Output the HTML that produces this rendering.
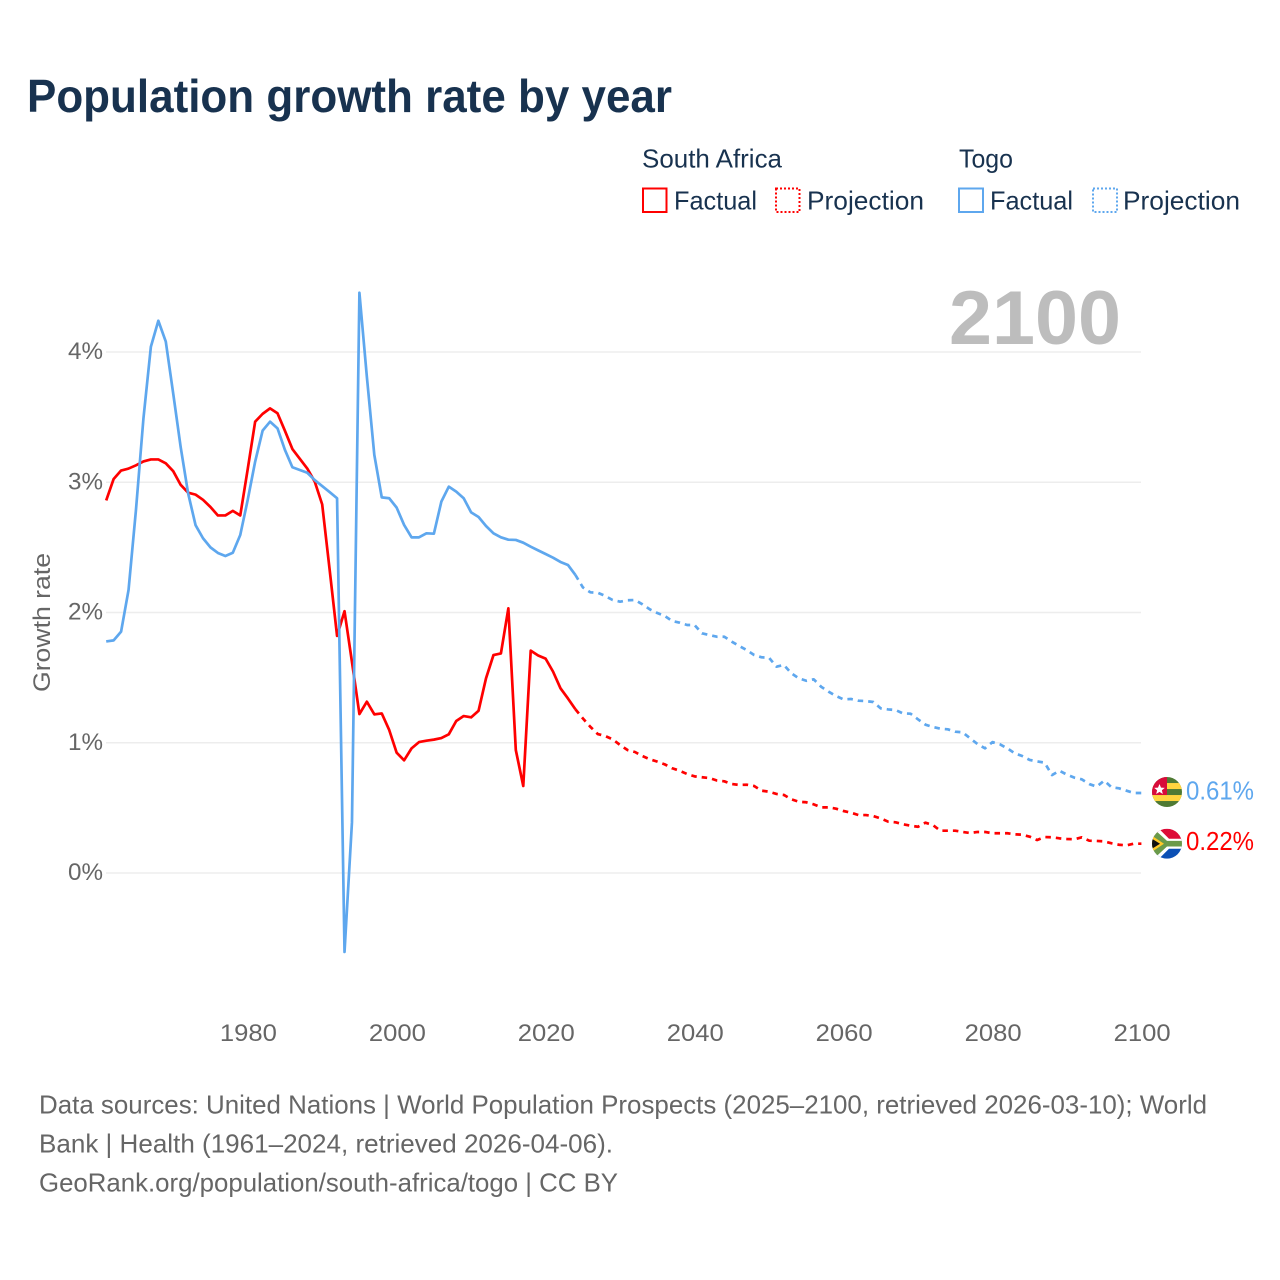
<!DOCTYPE html>
<html lang="en">
<head>
<meta charset="utf-8">
<title>Population growth rate by year</title>
<style>
  html, body { margin: 0; padding: 0; background: #fff; }
  svg { display: block; }
  text { font-family: "Liberation Sans", sans-serif; }
</style>
</head>
<body>
<svg id="chart" xmlns="http://www.w3.org/2000/svg" width="1280" height="1280" viewBox="0 0 1280 1280">
  <rect x="0" y="0" width="1280" height="1280" fill="#ffffff"/>

  <text x="27" y="112" font-size="46" font-weight="700" fill="#18324f" textLength="645" lengthAdjust="spacingAndGlyphs">Population growth rate by year</text>

  <g fill="#18324f" font-size="26">
    <text x="642" y="167.5" textLength="140" lengthAdjust="spacingAndGlyphs">South Africa</text>
    <rect x="643" y="188.5" width="23.5" height="23.5" fill="none" stroke="#ff0000" stroke-width="2"/>
    <text x="674" y="209.5" textLength="83" lengthAdjust="spacingAndGlyphs">Factual</text>
    <rect x="776" y="188.5" width="23.5" height="23.5" fill="none" stroke="#ff0000" stroke-width="2" stroke-dasharray="2 2"/>
    <text x="807" y="209.5" textLength="117" lengthAdjust="spacingAndGlyphs">Projection</text>

    <text x="959" y="167.5" textLength="54" lengthAdjust="spacingAndGlyphs">Togo</text>
    <rect x="959" y="188.5" width="24" height="23.5" fill="none" stroke="#5ea7ee" stroke-width="2"/>
    <text x="990" y="209.5" textLength="83" lengthAdjust="spacingAndGlyphs">Factual</text>
    <rect x="1093" y="188.5" width="24" height="23.5" fill="none" stroke="#5ea7ee" stroke-width="2" stroke-dasharray="2 2"/>
    <text x="1123" y="209.5" textLength="117" lengthAdjust="spacingAndGlyphs">Projection</text>
  </g>

  <g id="grid"></g>
  <g id="y-ticks"></g>
  <g id="x-ticks"></g>

  <text transform="translate(50,622.5) rotate(-90)" text-anchor="middle" font-size="24" fill="#666666" textLength="139" lengthAdjust="spacingAndGlyphs">Growth rate</text>

  <text x="949" y="344" font-size="76" font-weight="700" fill="#bdbdbd" textLength="172" lengthAdjust="spacingAndGlyphs">2100</text>

  <g id="series"></g>

  <defs>
    <clipPath id="flag-clip"><circle cx="0" cy="0" r="15"/></clipPath>
  </defs>

  <g id="flag-togo">
    <g clip-path="url(#flag-clip)">
      <rect x="-15" y="-15" width="30" height="30" fill="#4f7a34"/>
      <rect x="-15" y="-9" width="30" height="6" fill="#ffd53f"/>
      <rect x="-15" y="3" width="30" height="6" fill="#ffd53f"/>
      <rect x="-15" y="-15" width="15" height="18" fill="#d80b3a"/>
      <polygon points="-7.5,-8 -6,-4.4 -2.2,-4.2 -5.1,-1.8 -4.2,2 -7.5,-0.1 -10.8,2 -9.9,-1.8 -12.8,-4.2 -9,-4.4" fill="#ffffff"/>
    </g>
  </g>

  <g id="flag-south-africa">
    <g clip-path="url(#flag-clip)">
      <rect x="-15" y="-15" width="30" height="15" fill="#dd0b38"/>
      <rect x="-15" y="0" width="30" height="15" fill="#0b50b5"/>
      <polygon points="-15,-15 -8,-15 2,-5 15,-5 15,5 2,5 -8,15 -15,15" fill="#ffffff"/>
      <polygon points="-15,-12 -10,-12 0,-2.8 15,-2.8 15,2.8 0,2.8 -10,12 -15,12" fill="#6a9a4a"/>
      <polygon points="-15,-8 -3,0 -15,8" fill="#ffc928"/>
      <polygon points="-15,-5 -7,0 -15,5" fill="#111111"/>
    </g>
  </g>

  <text id="label-togo" font-size="26" fill="#5ea7ee" textLength="68" lengthAdjust="spacingAndGlyphs"></text>
  <text id="label-south-africa" font-size="26" fill="#ff0000" textLength="68" lengthAdjust="spacingAndGlyphs"></text>

  <g font-size="26" fill="#666666">
    <text x="39" y="1113.5" textLength="1168" lengthAdjust="spacingAndGlyphs">Data sources: United Nations | World Population Prospects (2025–2100, retrieved 2026-03-10); World</text>
    <text x="39" y="1152.5" textLength="574" lengthAdjust="spacingAndGlyphs">Bank | Health (1961–2024, retrieved 2026-04-06).</text>
    <text x="39" y="1191.5" textLength="579" lengthAdjust="spacingAndGlyphs">GeoRank.org/population/south-africa/togo | CC BY</text>
  </g>
</svg>

<script>
// ---- chart data (growth rate, % per year) ----
const factualStartYear = 1961;
const projectionStartYear = 2024;
const yTickValues = [0, 1, 2, 3, 4];
const yTickLabels = ["0%", "1%", "2%", "3%", "4%"];
const xTickValues = [1980, 2000, 2020, 2040, 2060, 2080, 2100];
const xTickLabels = ["1980", "2000", "2020", "2040", "2060", "2080", "2100"];

const southAfricaFactual = [
  2.86, 3.025, 3.09, 3.105, 3.13, 3.16, 3.175, 3.175, 3.145, 3.085,
  2.98, 2.92, 2.905, 2.865, 2.81, 2.745, 2.745, 2.78, 2.745, 3.10,
  3.465, 3.525, 3.567, 3.53, 3.395, 3.255, 3.18, 3.105, 3.005, 2.83,
  2.33, 1.82, 2.01, 1.62, 1.22, 1.315, 1.218, 1.225, 1.098, 0.924,
  0.865, 0.957, 1.005, 1.016, 1.024, 1.036, 1.065, 1.167, 1.205, 1.195,
  1.246, 1.495, 1.673, 1.686, 2.032, 0.944, 0.668, 1.707, 1.67, 1.646,
  1.546, 1.418, 1.34, 1.257
];
const southAfricaProjection = [
  1.257, 1.187, 1.123, 1.067, 1.052, 1.026, 0.983, 0.944, 0.929, 0.898,
  0.873, 0.855, 0.834, 0.804, 0.785, 0.76, 0.742, 0.735, 0.729, 0.71,
  0.704, 0.683, 0.676, 0.678, 0.668, 0.632, 0.624, 0.607, 0.599, 0.566,
  0.547, 0.543, 0.527, 0.504, 0.504, 0.494, 0.476, 0.463, 0.445, 0.445,
  0.437, 0.419, 0.394, 0.389, 0.374, 0.363, 0.355, 0.386, 0.368, 0.325,
  0.325, 0.325, 0.315, 0.307, 0.315, 0.315, 0.305, 0.305, 0.305, 0.297,
  0.294, 0.279, 0.253, 0.276, 0.274, 0.266, 0.261, 0.259, 0.274, 0.248,
  0.246, 0.243, 0.228, 0.217, 0.212, 0.225, 0.225
];
const togoFactual = [
  1.778, 1.786, 1.853, 2.173, 2.79, 3.49, 4.04, 4.24, 4.08, 3.68,
  3.27, 2.915, 2.67, 2.57, 2.50, 2.457, 2.434, 2.459, 2.595, 2.864,
  3.158, 3.396, 3.465, 3.414, 3.248, 3.115, 3.094, 3.073, 3.017, 2.971,
  2.925, 2.877, -0.606, 0.39, 4.455, 3.81, 3.21, 2.884, 2.877, 2.805,
  2.672, 2.577, 2.577, 2.608, 2.605, 2.851, 2.966, 2.928, 2.877, 2.769,
  2.733, 2.664, 2.608, 2.577, 2.559, 2.557, 2.536, 2.505, 2.477, 2.449,
  2.421, 2.388, 2.365, 2.288
];
const togoProjection = [
  2.288, 2.193, 2.155, 2.152, 2.127, 2.096, 2.083, 2.094, 2.096, 2.063,
  2.024, 1.996, 1.973, 1.935, 1.922, 1.904, 1.904, 1.84, 1.827, 1.814,
  1.814, 1.776, 1.743, 1.712, 1.674, 1.656, 1.653, 1.584, 1.597, 1.533,
  1.495, 1.476, 1.487, 1.43, 1.392, 1.359, 1.333, 1.336, 1.323, 1.32,
  1.313, 1.264, 1.256, 1.251, 1.225, 1.223, 1.18, 1.139, 1.121, 1.108,
  1.103, 1.085, 1.08, 1.034, 0.99, 0.957, 1.005, 0.988, 0.957, 0.919,
  0.898, 0.868, 0.857, 0.847, 0.752, 0.785, 0.755, 0.732, 0.719, 0.683,
  0.663, 0.709, 0.658, 0.65, 0.632, 0.614, 0.614
];
const endLabels = ["0.61%", "0.22%"];

// ---- axes ----
const SVG_NS = "http://www.w3.org/2000/svg";
function xScale(year) { return 106.2 + (year - 1961) * (1141.4 - 106.2) / (2100 - 1961); }
function yScale(value) { return 873 - value * 130.25; }

const gridGroup = document.getElementById("grid");
const yTickGroup = document.getElementById("y-ticks");
const xTickGroup = document.getElementById("x-ticks");
const seriesGroup = document.getElementById("series");

yTickValues.forEach(function (v, i) {
  const line = document.createElementNS(SVG_NS, "line");
  
  
  line.setAttribute("x1", 106);
  line.setAttribute("x2", 1141);
  line.setAttribute("y1", yScale(v));
  line.setAttribute("y2", yScale(v));
  line.setAttribute("stroke", "#ededed");
  line.setAttribute("stroke-width", "1.6");
  gridGroup.appendChild(line);

  const label = document.createElementNS(SVG_NS, "text");
  
  
  label.setAttribute("x", 103);
  label.setAttribute("y", yScale(v) + 7);
  label.setAttribute("text-anchor", "end");
  label.setAttribute("font-size", "24");
  label.setAttribute("fill", "#666666");
  label.setAttribute("textLength", "35");
  label.setAttribute("lengthAdjust", "spacingAndGlyphs");
  label.textContent = yTickLabels[i];
  yTickGroup.appendChild(label);
});

xTickValues.forEach(function (v, i) {
  const label = document.createElementNS(SVG_NS, "text");
  
  
  label.setAttribute("x", xScale(v) + 0.7);
  label.setAttribute("y", 1041);
  label.setAttribute("text-anchor", "middle");
  label.setAttribute("font-size", "24");
  label.setAttribute("fill", "#666666");
  label.setAttribute("textLength", "57");
  label.setAttribute("lengthAdjust", "spacingAndGlyphs");
  label.textContent = xTickLabels[i];
  xTickGroup.appendChild(label);
});

// ---- series ----
function seriesPoints(values, startYear) {
  return values.map(function (v, i) {
    return xScale(startYear + i).toFixed(2) + "," + yScale(v).toFixed(2);
  }).join(" ");
}

function drawLine(values, startYear, color, dashed, name) {
  const path = document.createElementNS(SVG_NS, "polyline");
  
  
  path.setAttribute("points", seriesPoints(values, startYear));
  path.setAttribute("fill", "none");
  path.setAttribute("stroke", color);
  path.setAttribute("stroke-width", "2.7");
  path.setAttribute("stroke-linejoin", "round");
  if (dashed) { path.setAttribute("stroke-dasharray", "5.5 5"); }
  seriesGroup.appendChild(path);
}

drawLine(southAfricaFactual, factualStartYear, "#ff0000", false, "south-africa-factual-line");
drawLine(southAfricaProjection, projectionStartYear, "#ff0000", true, "south-africa-projection-line");
drawLine(togoFactual, factualStartYear, "#5ea7ee", false, "togo-factual-line");
drawLine(togoProjection, projectionStartYear, "#5ea7ee", true, "togo-projection-line");

// ---- end-of-line markers ----
const togoLast = togoProjection[togoProjection.length - 1];
const southAfricaLast = southAfricaProjection[southAfricaProjection.length - 1];
const lastX = xScale(2100);

document.getElementById("flag-togo").setAttribute("transform", "translate(" + (lastX + 25.6) + "," + (yScale(togoLast) - 1) + ")");
document.getElementById("flag-south-africa").setAttribute("transform", "translate(" + (lastX + 25.6) + "," + (yScale(southAfricaLast)) + ")");

const labelTogo = document.getElementById("label-togo");
labelTogo.setAttribute("x", lastX + 44.6);
labelTogo.setAttribute("y", yScale(togoLast) + 6.5);
labelTogo.textContent = endLabels[0];

const labelSouthAfrica = document.getElementById("label-south-africa");
labelSouthAfrica.setAttribute("x", lastX + 44.6);
labelSouthAfrica.setAttribute("y", yScale(southAfricaLast) + 6.5);
labelSouthAfrica.textContent = endLabels[1];
</script>
</body>
</html>
